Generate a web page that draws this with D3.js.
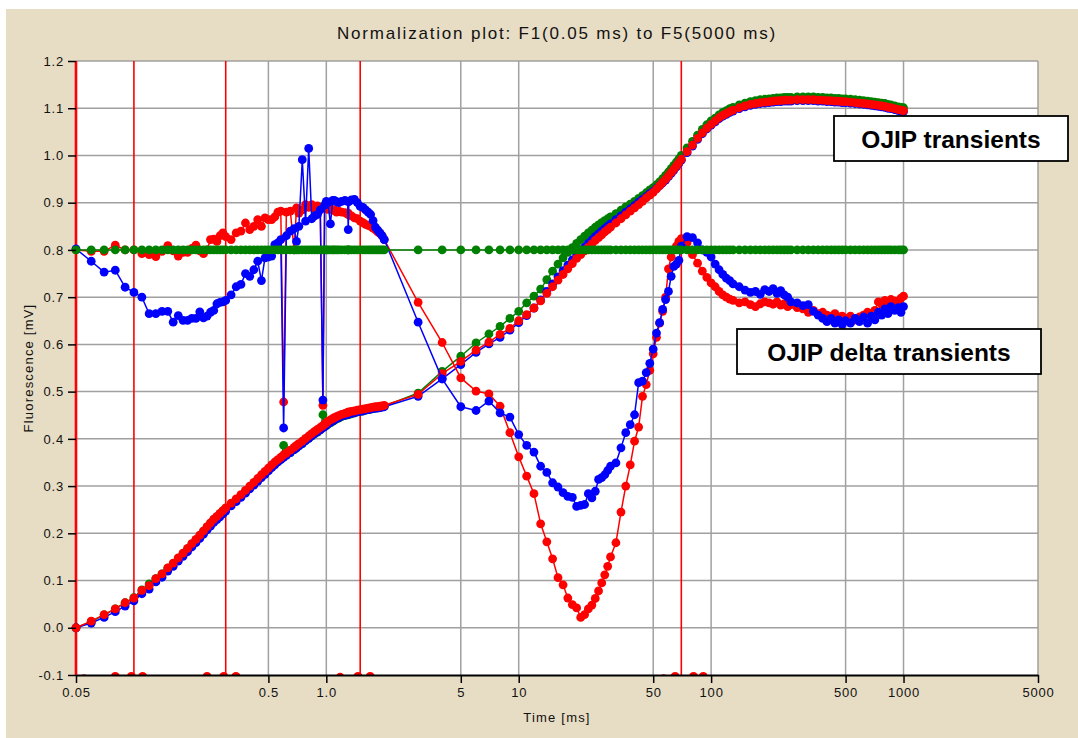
<!DOCTYPE html>
<html>
<head>
<meta charset="utf-8">
<script src="https://cdn.jsdelivr.net/npm/d3@7"></script>
<style>
  html, body { margin: 0; padding: 0; background: #ffffff; }
  svg { display: block; }
  text { font-family: "Liberation Sans", Arial, sans-serif; }
</style>
</head>
<body>
<svg id="chart" width="1078" height="738"></svg>
<script>
// Sample times (ms)
const timeMs = [
  0.05,0.06,0.07,0.08,0.09,0.10,0.11,0.12,0.13,0.14,0.15,0.16,0.17,0.18,0.19,0.20,0.21,0.22,0.23,0.24,0.25,0.26,0.27,0.28,0.29,0.30,
  0.32,0.34,0.36,0.38,0.40,0.42,0.44,0.46,0.48,0.50,0.52,0.54,0.56,0.58,0.60,
  0.62,0.65,0.68,0.70,0.72,0.75,0.78,0.81,0.84,0.87,0.90,0.93,0.96,0.98,1.0,1.02,1.05,1.08,1.1,1.13,1.16,1.2,
  1.25,1.29,1.3,1.31,1.35,1.4,1.45,1.5,1.55,1.6,1.65,1.7,1.75,1.8,1.85,1.9,1.95,2.0,
  3,4,5,6,7,8,9,10,11,12,13,14,15,16,17,18,19,20,21,22,23,24,25,26,27,28,29,30,
  32,34,36,38,40,42,44,46,48,50,52,54,56,58,60,62,64,66,68,70,
  75,80,85,90,95,100,
  105,110,115,120,125,130,140,150,160,170,180,190,200,210,220,230,240,250,260,280,300,320,340,360,380,400,420,440,460,480,500,530,560,590,620,650,680,710,740,770,800,830,860,900,940,970,1000
];

// OJIP transients (normalised fluorescence)
const ojipGreen = [
  0.000,0.013,0.027,0.040,0.053,0.064,0.080,0.093,0.104,0.114,0.126,0.136,0.147,0.157,0.167,0.177,0.186,0.195,0.204,0.213,0.221,0.229,0.235,0.241,0.247,0.253,
  0.262,0.271,0.280,0.289,0.297,0.305,0.313,0.320,0.327,0.334,0.341,0.347,0.352,0.357,0.386,
  0.366,0.371,0.377,0.381,0.385,0.390,0.396,0.401,0.406,0.411,0.414,0.419,0.451,0.426,0.428,0.431,0.434,0.437,0.439,0.442,0.444,0.447,
  0.449,0.451,0.451,0.452,0.453,0.455,0.457,0.458,0.459,0.461,0.462,0.463,0.464,0.465,0.466,0.467,0.468,0.469,
  0.497,0.543,0.575,0.603,0.622,0.638,0.655,0.670,0.688,0.702,0.717,0.737,0.755,0.770,0.783,0.795,0.805,0.814,0.822,0.829,0.836,0.842,0.848,0.853,0.858,0.862,0.866,0.870,
  0.877,0.884,0.891,0.897,0.903,0.909,0.915,0.921,0.927,0.932,0.938,0.944,0.951,0.958,0.965,0.972,0.979,0.986,0.993,1.000,
  1.016,1.030,1.043,1.055,1.065,1.073,
  1.079,1.086,1.091,1.095,1.099,1.102,1.107,1.111,1.114,1.116,1.118,1.119,1.120,1.121,1.122,1.122,1.123,1.123,1.123,
  1.124,1.124,1.124,1.124,1.123,1.123,1.122,1.122,1.121,1.121,1.120,1.120,
  1.119,1.118,1.117,1.116,1.115,1.114,1.113,1.112,1.111,1.110,1.108,1.107,1.105,1.103,1.102,1.101
];
const ojipBlue = [
  0.000,0.010,0.022,0.034,0.046,0.057,0.072,0.082,0.097,0.107,0.120,0.130,0.141,0.151,0.161,0.171,0.180,0.189,0.198,0.207,0.215,0.223,0.229,0.235,0.241,0.247,
  0.258,0.267,0.276,0.285,0.294,0.302,0.310,0.318,0.325,0.332,0.339,0.345,0.351,0.356,0.361,
  0.365,0.371,0.377,0.381,0.385,0.390,0.396,0.401,0.406,0.411,0.415,0.419,0.423,0.426,0.429,0.432,0.435,0.438,0.440,0.443,0.445,0.448,
  0.450,0.452,0.452,0.453,0.454,0.455,0.457,0.458,0.459,0.461,0.462,0.463,0.464,0.465,0.465,0.466,0.467,0.468,
  0.490,0.527,0.557,0.583,0.601,0.615,0.630,0.646,0.661,0.677,0.694,0.712,0.728,0.743,0.756,0.768,0.779,0.790,0.798,0.806,0.814,0.821,0.828,0.834,0.840,0.845,0.850,0.855,
  0.864,0.872,0.880,0.887,0.894,0.901,0.907,0.913,0.919,0.924,0.930,0.936,0.942,0.948,0.955,0.962,0.969,0.976,0.983,0.990,
  1.006,1.020,1.034,1.046,1.056,1.064,
  1.071,1.078,1.083,1.087,1.091,1.094,1.099,1.103,1.106,1.108,1.110,1.111,1.112,1.113,1.114,1.114,1.115,1.115,1.115,
  1.116,1.116,1.116,1.116,1.115,1.115,1.114,1.114,1.113,1.113,1.112,1.112,
  1.111,1.110,1.109,1.108,1.107,1.106,1.105,1.104,1.103,1.102,1.100,1.099,1.097,1.095,1.094,1.093
];
const ojipRed = [
  0.000,0.014,0.028,0.040,0.053,0.063,0.079,0.089,0.104,0.114,0.127,0.137,0.148,0.158,0.168,0.178,0.187,0.196,0.205,0.214,0.222,0.230,0.236,0.242,0.248,0.254,
  0.264,0.273,0.282,0.291,0.300,0.308,0.316,0.324,0.331,0.338,0.345,0.351,0.356,0.361,0.366,
  0.370,0.376,0.382,0.386,0.390,0.395,0.401,0.406,0.411,0.416,0.420,0.424,0.428,0.431,0.434,0.437,0.440,0.443,0.445,0.447,0.449,0.452,
  0.454,0.456,0.456,0.457,0.458,0.459,0.461,0.462,0.463,0.464,0.465,0.466,0.467,0.468,0.468,0.469,0.470,0.471,
  0.494,0.538,0.564,0.588,0.605,0.621,0.634,0.650,0.663,0.677,0.692,0.708,0.722,0.736,0.748,0.760,0.771,0.782,0.790,0.798,0.806,0.813,0.820,0.826,0.832,0.838,0.843,0.848,
  0.857,0.866,0.874,0.882,0.889,0.896,0.903,0.910,0.916,0.922,0.929,0.936,0.943,0.950,0.957,0.964,0.971,0.978,0.985,0.992,
  1.008,1.022,1.036,1.048,1.058,1.066,
  1.073,1.080,1.085,1.089,1.093,1.096,1.101,1.105,1.108,1.110,1.112,1.113,1.114,1.115,1.116,1.116,1.117,1.117,1.117,
  1.118,1.118,1.118,1.118,1.117,1.117,1.116,1.116,1.115,1.115,1.114,1.114,
  1.113,1.112,1.111,1.110,1.109,1.108,1.107,1.106,1.105,1.104,1.102,1.101,1.099,1.097,1.096,1.095
];

// OJIP delta transients (difference to the green reference, offset by 0.8)
const deltaRed = [
  0.800,0.797,0.797,0.810,0.800,0.800,0.792,0.790,0.786,0.797,0.809,0.798,0.787,0.795,0.795,0.803,0.810,0.798,0.792,0.800,0.822,0.823,0.818,0.830,0.836,0.828,
  0.822,0.836,0.840,0.857,0.843,0.850,0.864,0.850,0.868,0.864,0.864,0.870,0.880,0.882,0.478,
  0.880,0.882,0.800,0.889,0.878,0.885,0.896,0.890,0.896,0.888,0.893,0.890,0.471,0.892,0.892,0.886,0.888,0.884,0.885,0.880,0.882,0.880,
  0.879,0.876,0.878,0.874,0.872,0.868,0.866,0.861,0.858,0.854,0.852,0.850,0.846,0.843,0.838,0.835,0.830,0.822,
  0.689,0.604,0.529,0.501,0.495,0.469,0.413,0.362,0.321,0.284,0.220,0.182,0.146,0.106,0.091,0.063,0.049,0.042,0.022,0.028,0.040,0.048,0.062,0.078,0.095,0.112,0.130,0.150,
  0.180,0.245,0.300,0.345,0.395,0.425,0.490,0.515,0.545,0.580,0.615,0.645,0.670,0.700,0.760,0.785,0.800,0.808,0.818,0.824,
  0.815,0.790,0.772,0.755,0.742,0.730,
  0.722,0.712,0.705,0.700,0.696,0.693,0.688,0.690,0.684,0.680,0.686,0.690,0.688,0.685,0.690,0.683,0.686,0.680,0.684,
  0.678,0.675,0.668,0.672,0.665,0.668,0.662,0.660,0.665,0.658,0.660,0.655,
  0.660,0.652,0.658,0.662,0.668,0.665,0.672,0.690,0.685,0.693,0.688,0.695,0.692,0.690,0.698,0.702
];
const deltaBlue = [
  0.802,0.776,0.753,0.757,0.721,0.710,0.700,0.665,0.665,0.670,0.670,0.647,0.661,0.651,0.651,0.655,0.655,0.669,0.656,0.660,0.668,0.672,0.686,0.689,0.690,0.693,
  0.705,0.722,0.727,0.750,0.744,0.758,0.776,0.735,0.783,0.785,0.787,0.811,0.815,0.822,0.423,
  0.830,0.840,0.845,0.818,0.850,0.991,0.861,1.015,0.866,0.872,0.875,0.885,0.482,0.895,0.903,0.900,0.855,0.905,0.905,0.902,0.900,0.903,
  0.905,0.903,0.843,0.902,0.906,0.907,0.900,0.892,0.890,0.885,0.880,0.875,0.862,0.848,0.842,0.836,0.830,0.822,
  0.647,0.527,0.468,0.460,0.480,0.455,0.446,0.409,0.386,0.372,0.342,0.329,0.307,0.298,0.286,0.278,0.276,0.257,0.259,0.261,0.284,0.275,0.289,0.314,0.318,0.324,0.333,0.342,
  0.349,0.381,0.413,0.430,0.451,0.519,0.522,0.540,0.560,0.590,0.624,0.646,0.674,0.695,0.712,0.744,0.765,0.770,0.778,0.808,
  0.828,0.826,0.815,0.800,0.795,0.785,
  0.770,0.758,0.748,0.740,0.735,0.728,0.722,0.715,0.710,0.712,0.706,0.716,0.712,0.718,0.708,0.714,0.705,0.700,0.690,
  0.688,0.682,0.684,0.670,0.662,0.655,0.648,0.655,0.645,0.652,0.642,0.650,
  0.645,0.655,0.648,0.658,0.645,0.660,0.652,0.668,0.662,0.675,0.665,0.680,0.672,0.678,0.668,0.680
];
const deltaGreen = [
  0.8,0.8,0.8,0.8,0.8,0.8,0.8,0.8,0.8,0.8,0.8,0.8,0.8,0.8,0.8,0.8,0.8,0.8,0.8,0.8,0.8,0.8,0.8,0.8,0.8,0.8,
  0.8,0.8,0.8,0.8,0.8,0.8,0.8,0.8,0.8,0.8,0.8,0.8,0.8,0.8,0.8,
  0.8,0.8,0.8,0.8,0.8,0.8,0.8,0.8,0.8,0.8,0.8,0.8,0.8,0.8,0.8,0.8,0.8,0.8,0.8,0.8,0.8,0.8,
  0.8,0.8,0.8,0.8,0.8,0.8,0.8,0.8,0.8,0.8,0.8,0.8,0.8,0.8,0.8,0.8,0.8,0.8,
  0.8,0.8,0.8,0.8,0.8,0.8,0.8,0.8,0.8,0.8,0.8,0.8,0.8,0.8,0.8,0.8,0.8,0.8,0.8,0.8,0.8,0.8,0.8,0.8,0.8,0.8,0.8,0.8,
  0.8,0.8,0.8,0.8,0.8,0.8,0.8,0.8,0.8,0.8,0.8,0.8,0.8,0.8,0.8,0.8,0.8,0.8,0.8,0.8,
  0.8,0.8,0.8,0.8,0.8,0.8,
  0.8,0.8,0.8,0.8,0.8,0.8,0.8,0.8,0.8,0.8,0.8,0.8,0.8,0.8,0.8,0.8,0.8,0.8,0.8,
  0.8,0.8,0.8,0.8,0.8,0.8,0.8,0.8,0.8,0.8,0.8,0.8,
  0.8,0.8,0.8,0.8,0.8,0.8,0.8,0.8,0.8,0.8,0.8,0.8,0.8,0.8,0.8,0.8
];

// Normalisation points F1..F5 (vertical markers) and the base markers at the axis
const normTimes = [0.05, 0.1, 0.3, 1.5, 70];
const baseMarkTimes = [0.055, 0.08, 0.097, 0.111, 0.24, 0.293, 0.339, 1.18, 1.46, 1.69, 56.6, 65, 81, 91];
const baseMarkValues = [-0.108, -0.103, -0.103, -0.103, -0.103, -0.103, -0.103, -0.105, -0.103, -0.103, -0.108, -0.103, -0.103, -0.103];

// Axis ticks
const xTickValues = [0.05, 0.5, 1, 5, 10, 50, 100, 500, 1000, 5000];
const xTickLabels = ["0.05", "0.5", "1.0", "5", "10", "50", "100", "500", "1000", "5000"];
const yTickValues = [-0.1, 0.0, 0.1, 0.2, 0.3, 0.4, 0.5, 0.6, 0.7, 0.8, 0.9, 1.0, 1.1, 1.2];
const yTickLabels = ["-0.1", "0.0", "0.1", "0.2", "0.3", "0.4", "0.5", "0.6", "0.7", "0.8", "0.9", "1.0", "1.1", "1.2"];

const titleText = "Normalization plot: F1(0.05 ms) to F5(5000 ms)";
const xTitle = "Time [ms]";
const yTitle = "Fluorescence [mV]";
const boxLabels = ["OJIP transients", "OJIP delta transients"];

// ---- layout ----
const W = 1078, H = 738;
const plot = { left: 76, right: 1038, top: 61, bottom: 675 };
const COLORS = { red: "#ff0000", blue: "#0000ff", green: "#008000", grid: "#a0a0a0", panel: "#e7dcc4" };

const svg = d3.select("#chart");

const x = d3.scaleLog().domain([0.05, 5000]).range([plot.left, plot.right]);
const y = d3.scaleLinear().domain([-0.1, 1.2]).range([plot.bottom, plot.top]);

// panel background
svg.append("rect").attr("x", 0).attr("y", 0).attr("width", W).attr("height", H).attr("fill", "#ffffff");
svg.append("rect").attr("x", 6).attr("y", 9).attr("width", W - 6).attr("height", H - 9).attr("fill", COLORS.panel);
svg.append("rect")
  .attr("x", plot.left).attr("y", plot.top)
  .attr("width", plot.right - plot.left).attr("height", plot.bottom - plot.top)
  .attr("fill", "#ffffff");

// grid
const grid = svg.append("g").attr("stroke", COLORS.grid).attr("stroke-width", 1.5);
grid.selectAll("line.h").data(yTickValues.filter(v => v > -0.1)).join("line")
  .attr("class", "h")
  .attr("x1", plot.left).attr("x2", plot.right)
  .attr("y1", d => y(d)).attr("y2", d => y(d));
grid.selectAll("line.v").data(xTickValues.filter(v => v > 0.05)).join("line")
  .attr("class", "v")
  .attr("x1", d => x(d)).attr("x2", d => x(d))
  .attr("y1", plot.top).attr("y2", plot.bottom);

// normalisation markers
svg.append("g").selectAll("line").data(normTimes).join("line")
  .attr("x1", d => x(d)).attr("x2", d => x(d))
  .attr("y1", plot.top).attr("y2", plot.bottom)
  .attr("stroke", COLORS.red)
  .attr("stroke-width", (d, i) => i === 0 ? 2.6 : 1.6);

// base markers, clipped at the x axis
svg.append("clipPath").attr("id", "plotClip")
  .append("rect").attr("x", plot.left - 10).attr("y", plot.top - 10)
  .attr("width", plot.right - plot.left + 20).attr("height", plot.bottom - plot.top + 10);
svg.append("g").attr("clip-path", "url(#plotClip)")
  .selectAll("circle").data(baseMarkTimes).join("circle")
  .attr("cx", d => x(d)).attr("cy", (d, i) => y(baseMarkValues[i]))
  .attr("r", 4.5).attr("fill", COLORS.red);

// series
const series = [
  { values: ojipGreen, color: COLORS.green },
  { values: ojipBlue, color: COLORS.blue },
  { values: ojipRed, color: COLORS.red },
  { values: deltaRed, color: COLORS.red },
  { values: deltaBlue, color: COLORS.blue },
  { values: deltaGreen, color: COLORS.green }
];
const line = d3.line().x(d => x(d[0])).y(d => y(d[1]));
series.forEach(s => {
  const pts = timeMs.map((t, i) => [t, s.values[i]]);
  const g = svg.append("g");
  g.append("path").attr("d", line(pts))
    .attr("fill", "none").attr("stroke", s.color).attr("stroke-width", 1.5);
  g.selectAll("circle").data(pts).join("circle")
    .attr("cx", d => x(d[0])).attr("cy", d => y(d[1]))
    .attr("r", 4.4).attr("fill", s.color);
});

// x axis
const xAxis = d3.axisBottom(x)
  .tickValues(xTickValues)
  .tickFormat((d, i) => xTickLabels[i])
  .tickSize(8).tickSizeOuter(0).tickPadding(5);
const gx = svg.append("g").attr("transform", `translate(0,${plot.bottom})`).call(xAxis);
gx.select(".domain").attr("stroke", "#000").attr("stroke-width", 2);
gx.selectAll(".tick line").attr("stroke", "#000").attr("stroke-width", 1.5);
gx.selectAll(".tick text")
  .attr("fill", "#111").attr("font-size", 13).attr("letter-spacing", 0.8)
  .attr("font-family", "Liberation Sans, Arial, sans-serif");

// y axis (ticks only; the first marker line sits on the axis)
const yAxis = d3.axisLeft(y)
  .tickValues(yTickValues)
  .tickFormat((d, i) => yTickLabels[i])
  .tickSize(8).tickSizeOuter(0).tickPadding(4);
const gy = svg.append("g").attr("transform", `translate(${plot.left},0)`).call(yAxis);
gy.select(".domain").remove();
gy.selectAll(".tick line").attr("stroke", "#000").attr("stroke-width", 1.5);
gy.selectAll(".tick text")
  .attr("fill", "#111").attr("font-size", 13).attr("letter-spacing", 0.8)
  .attr("font-family", "Liberation Sans, Arial, sans-serif");

// titles
svg.append("text")
  .attr("x", (plot.left + plot.right) / 2).attr("y", 39)
  .attr("text-anchor", "middle").attr("font-size", 17).attr("letter-spacing", 1.8)
  .attr("fill", "#111").text(titleText);
svg.append("text")
  .attr("x", (plot.left + plot.right) / 2).attr("y", 722)
  .attr("text-anchor", "middle").attr("font-size", 13).attr("letter-spacing", 1.2)
  .attr("fill", "#111").text(xTitle);
svg.append("text")
  .attr("transform", `translate(33,${(plot.top + plot.bottom) / 2}) rotate(-90)`)
  .attr("text-anchor", "middle").attr("font-size", 13).attr("letter-spacing", 1.2)
  .attr("fill", "#111").text(yTitle);

// label boxes
const boxes = [
  { x0: 834, y0: 116, w: 234, h: 45, text: boxLabels[0] },
  { x0: 737, y0: 329, w: 304, h: 45, text: boxLabels[1] }
];
boxes.forEach(b => {
  svg.append("rect").attr("x", b.x0).attr("y", b.y0).attr("width", b.w).attr("height", b.h)
    .attr("fill", "#ffffff").attr("stroke", "#000").attr("stroke-width", 1.8);
  svg.append("text")
    .attr("x", b.x0 + b.w / 2).attr("y", b.y0 + 32)
    .attr("text-anchor", "middle").attr("font-size", 24.5).attr("font-weight", "bold")
    .attr("fill", "#000").text(b.text);
});
</script>
</body>
</html>
